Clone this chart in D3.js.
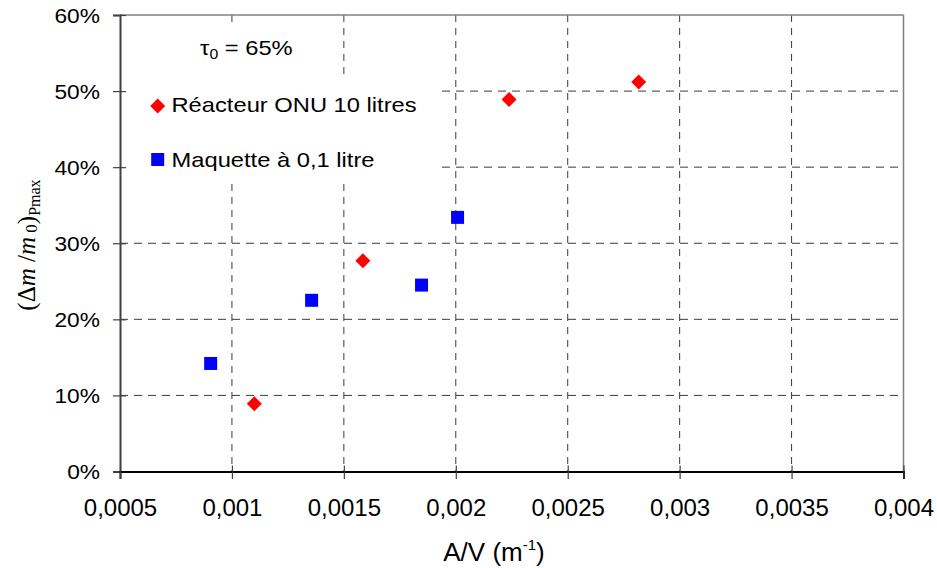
<!DOCTYPE html>
<html>
<head>
<meta charset="utf-8">
<script src="https://cdn.jsdelivr.net/npm/d3@7"></script>
<style>
  html, body { margin: 0; padding: 0; background: #fff; }
  svg { display: block; }
</style>
</head>
<body>
<div id="chart"></div>
<script>
// ---- data ----
const reacteurX = [0.00110, 0.001585, 0.002238, 0.002817];
const reacteurY = [0.089, 0.277, 0.489, 0.512];
const maquetteX = [0.000905, 0.001356, 0.001847, 0.002008];
const maquetteY = [0.142, 0.225, 0.245, 0.334];
const xTicks = [0.0005, 0.001, 0.0015, 0.002, 0.0025, 0.003, 0.0035, 0.004];
const xTickLabels = ["0,0005", "0,001", "0,0015", "0,002", "0,0025", "0,003", "0,0035", "0,004"];
const yTicks = [0, 0.1, 0.2, 0.3, 0.4, 0.5, 0.6];
const yTickLabels = ["0%", "10%", "20%", "30%", "40%", "50%", "60%"];
const seriesNames = ["Réacteur ONU 10 litres", "Maquette à 0,1 litre"];

const W = 937, H = 568;
const L = 120, R = 903.5, T = 15, B = 471.5;
const sans = "'Liberation Sans', Arial, sans-serif";
const serif = "'Liberation Serif', 'Times New Roman', serif";

const svg = d3.select("#chart").append("svg").attr("width", W).attr("height", H);

const x = d3.scaleLinear().domain([0.0005, 0.004]).range([L, R]);
const y = d3.scaleLinear().domain([0, 0.6]).range([B, T]);

// gridlines
const grid = svg.append("g");
grid.selectAll("line.h").data(yTicks.filter(v => v > 0 && v < 0.6)).join("line")
  .attr("x1", L).attr("x2", R).attr("y1", d => y(d)).attr("y2", d => y(d))
  .attr("stroke", "#3a3a3a").attr("stroke-width", 1).attr("stroke-dasharray", "8,6");
grid.selectAll("line.v").data(xTicks.filter(v => v > 0.0005 && v < 0.004)).join("line")
  .attr("x1", d => x(d)).attr("x2", d => x(d)).attr("y1", T).attr("y2", B)
  .attr("stroke", "#3a3a3a").attr("stroke-width", 1).attr("stroke-dasharray", "7,6");

// white text boxes covering grid
svg.append("rect").attr("x", 150).attr("y", 22).attr("width", 182).attr("height", 52).attr("fill", "#fff");
svg.append("rect").attr("x", L + 1).attr("y", 77).attr("width", 441 - L - 1).attr("height", 106).attr("fill", "#fff");

// border top / right
svg.append("line").attr("x1", L).attr("x2", R).attr("y1", T).attr("y2", T).attr("stroke", "#808080").attr("stroke-width", 1.5);
svg.append("line").attr("x1", R).attr("x2", R).attr("y1", T).attr("y2", B).attr("stroke", "#808080").attr("stroke-width", 1.5);

// y axis
const yAx = svg.append("g").attr("transform", `translate(${L},0)`)
  .call(d3.axisLeft(y).tickValues(yTicks).tickSize(7).tickFormat((d, i) => yTickLabels[i]));
yAx.select(".domain").attr("stroke", "#404040").attr("stroke-width", 2);
yAx.selectAll(".tick line").attr("stroke", "#404040").attr("stroke-width", 1.2);
yAx.selectAll(".tick").append("line").attr("x1", 0).attr("x2", 6).attr("stroke", "#404040").attr("stroke-width", 1.2);
yAx.selectAll(".tick text")
  .attr("font-family", sans).attr("font-size", 20.5).attr("fill", "#000")
  .attr("x", -20 / 1.11).attr("dy", "0.36em")
  .attr("transform", "scale(1.11,1)");

// x axis
const xAx = svg.append("g").attr("transform", `translate(0,${B})`)
  .call(d3.axisBottom(x).tickValues(xTicks).tickSize(7.5).tickFormat((d, i) => xTickLabels[i]));
xAx.select(".domain").attr("stroke", "#000").attr("stroke-width", 2);
xAx.selectAll(".tick line").attr("stroke", "#404040").attr("stroke-width", 1.2);
xAx.selectAll(".tick").append("line").attr("y1", 0).attr("y2", -6).attr("stroke", "#404040").attr("stroke-width", 1.2);
xAx.selectAll(".tick text")
  .attr("font-family", sans).attr("font-size", 24).attr("fill", "#000")
  .attr("y", 44).attr("dy", 0);

// markers
const diamond = r => `M0,${-r}L${r},0L0,${r}L${-r},0Z`;
const square = s => `M${-s/2},${-s/2}h${s}v${s}h${-s}Z`;

svg.append("g").selectAll("path").data(maquetteX.map((v, i) => [v, maquetteY[i]])).join("path")
  .attr("transform", d => `translate(${x(d[0])},${y(d[1])})`)
  .attr("d", square(13)).attr("fill", "#0000ff");
svg.append("g").selectAll("path").data(reacteurX.map((v, i) => [v, reacteurY[i]])).join("path")
  .attr("transform", d => `translate(${x(d[0])},${y(d[1])})`)
  .attr("d", diamond(7.5)).attr("fill", "#ff0000");

// tau annotation
const tau = svg.append("g").attr("transform", "translate(200,55) scale(1.13,1)")
  .append("text").attr("font-family", sans).attr("font-size", 21).attr("fill", "#000");
tau.append("tspan").text("τ");
tau.append("tspan").attr("font-size", 14).attr("dy", 4).text("0");
tau.append("tspan").attr("dy", -4).text(" = 65%");

// legend
svg.append("path").attr("transform", "translate(157.7,106)").attr("d", diamond(7.5)).attr("fill", "#ff0000");
svg.append("path").attr("transform", "translate(157.7,159.5)").attr("d", square(13)).attr("fill", "#0000ff");
svg.append("g").attr("transform", "translate(171.5,112.3) scale(1.13,1)")
  .append("text").attr("font-family", sans).attr("font-size", 21).attr("fill", "#000").text(seriesNames[0]);
svg.append("g").attr("transform", "translate(171.5,166.7) scale(1.13,1)")
  .append("text").attr("font-family", sans).attr("font-size", 21).attr("fill", "#000").text(seriesNames[1]);

// x title
const xt = svg.append("text").attr("x", 494).attr("y", 561).attr("text-anchor", "middle")
  .attr("font-family", sans).attr("font-size", 26).attr("fill", "#000");
xt.append("tspan").text("A/V (m");
xt.append("tspan").attr("font-size", 15).attr("dy", -11).text("-1");
xt.append("tspan").attr("dy", 11).text(")");

// y title
const yt = svg.append("text").attr("transform", "translate(35,245) rotate(-90)")
  .attr("text-anchor", "middle").attr("font-family", serif).attr("font-size", 25).attr("fill", "#000");
yt.append("tspan").text("(Δ");
yt.append("tspan").attr("font-style", "italic").text("m");
yt.append("tspan").text(" /");
yt.append("tspan").attr("font-style", "italic").text("m");
yt.append("tspan").attr("font-size", 17).attr("dy", 2).text(" 0");
yt.append("tspan").attr("dy", -2).text(")");
yt.append("tspan").attr("font-size", 16).attr("dy", 5).text("Pmax");
</script>
</body>
</html>
